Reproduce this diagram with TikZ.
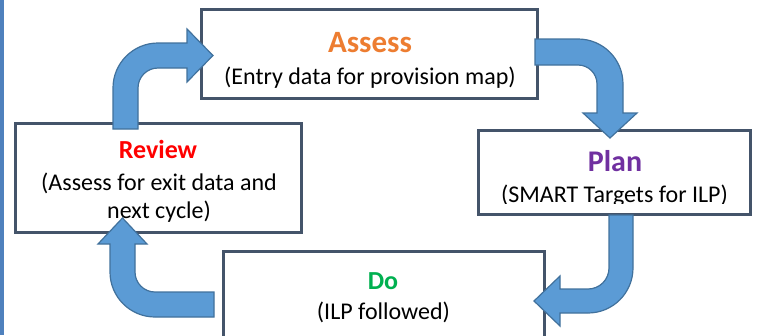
\documentclass[tikz,border=0pt]{standalone}
\usepackage{fontspec}
\setmainfont{Carlito}
\definecolor{boxline}{RGB}{68,84,106}
\definecolor{arrowfill}{RGB}{91,155,213}
\definecolor{arrowline}{RGB}{65,113,156}
\definecolor{barblue}{RGB}{79,129,189}
\definecolor{assessorange}{RGB}{237,125,49}
\definecolor{reviewred}{RGB}{255,0,0}
\definecolor{planpurple}{RGB}{112,48,160}
\definecolor{dogreen}{RGB}{0,176,80}
\begin{document}
\begin{tikzpicture}[x=1pt,y=-1pt,
  box/.style={draw=boxline, line width=3pt, fill=white, inner sep=0pt},
  blockarrow/.style={fill=arrowfill, draw=arrowline, line width=1.2pt, line join=miter},
  title/.style={font=\bfseries\fontsize{26}{30}\selectfont, anchor=base, inner sep=0pt},
  bigtitle/.style={font=\bfseries\fontsize{31}{36}\selectfont, anchor=base, inner sep=0pt},
  body/.style={font=\fontsize{24}{29}\selectfont, anchor=base, inner sep=0pt}]
\useasboundingbox (0,0) rectangle (758,335);
\clip (0,0) rectangle (758,335);
\fill[barblue] (0,0) rectangle (4,335);

% boxes
\node[box, minimum width=336pt, minimum height=89.5pt] (assessbox) at (369.5,54) {};
\node[box, minimum width=286.5pt, minimum height=109.5pt] (reviewbox) at (158.25,177.75) {};
\node[box, minimum width=272pt, minimum height=83.5pt] (planbox) at (614,172.25) {};
\node[box, minimum width=321pt, minimum height=100pt] (dobox) at (383.5,301) {};

% texts
\node[bigtitle, text=assessorange] (assesst) at (370,52) {Assess};
\node[body] (assessd) at (370,84) {(Entry data for provision map)};
\node[title, text=reviewred] (reviewt) at (158,158) {Review};
\node[body] (reviewd1) at (159,190) {(Assess for exit data and};
\node[body] (reviewd2) at (159,218) {next cycle)};
\node[bigtitle, text=planpurple, font=\bfseries\fontsize{30}{35}\selectfont] (plant) at (615,171) {Plan};
\begin{scope}
  \clip (478,130) rectangle (750,203);
  \node[body] (pland) at (614.5,202) {(SMART Targets for ILP)};
\end{scope}
\node[title, text=dogreen] (dot) at (383,289) {Do};
\node[body] (dod) at (383.5,319) {(ILP followed)};

% bent block arrows
\draw[blockarrow] (113,129) -- (113,88) arc[start angle=180,end angle=270,radius=45]
  -- (187,43) -- (187,29) -- (213,55.5) -- (187,82) -- (187,68) -- (158,68)
  arc[start angle=270,end angle=180,radius=20] -- (138,129) -- cycle;
\draw[blockarrow] (535,39) -- (578,39) arc[start angle=270,end angle=360,radius=45]
  -- (623,113) -- (637,113) -- (610,138) -- (583,113) -- (597,113) -- (597,84)
  arc[start angle=0,end angle=-90,radius=19] -- (535,65) -- cycle;
\draw[blockarrow] (609,215) -- (633,215) -- (633,268) arc[start angle=0,end angle=90,radius=45]
  -- (560,313) -- (560,326) -- (534,301) -- (560,276) -- (560,289) -- (588,289)
  arc[start angle=90,end angle=0,radius=21] -- cycle;
\draw[blockarrow] (214,317) -- (155,317) arc[start angle=90,end angle=180,radius=45]
  -- (110,244) -- (98,244) -- (122.5,218) -- (147,244) -- (135,244) -- (135,272)
  arc[start angle=180,end angle=90,radius=20] -- (214,292) -- cycle;
\end{tikzpicture}
\end{document}
